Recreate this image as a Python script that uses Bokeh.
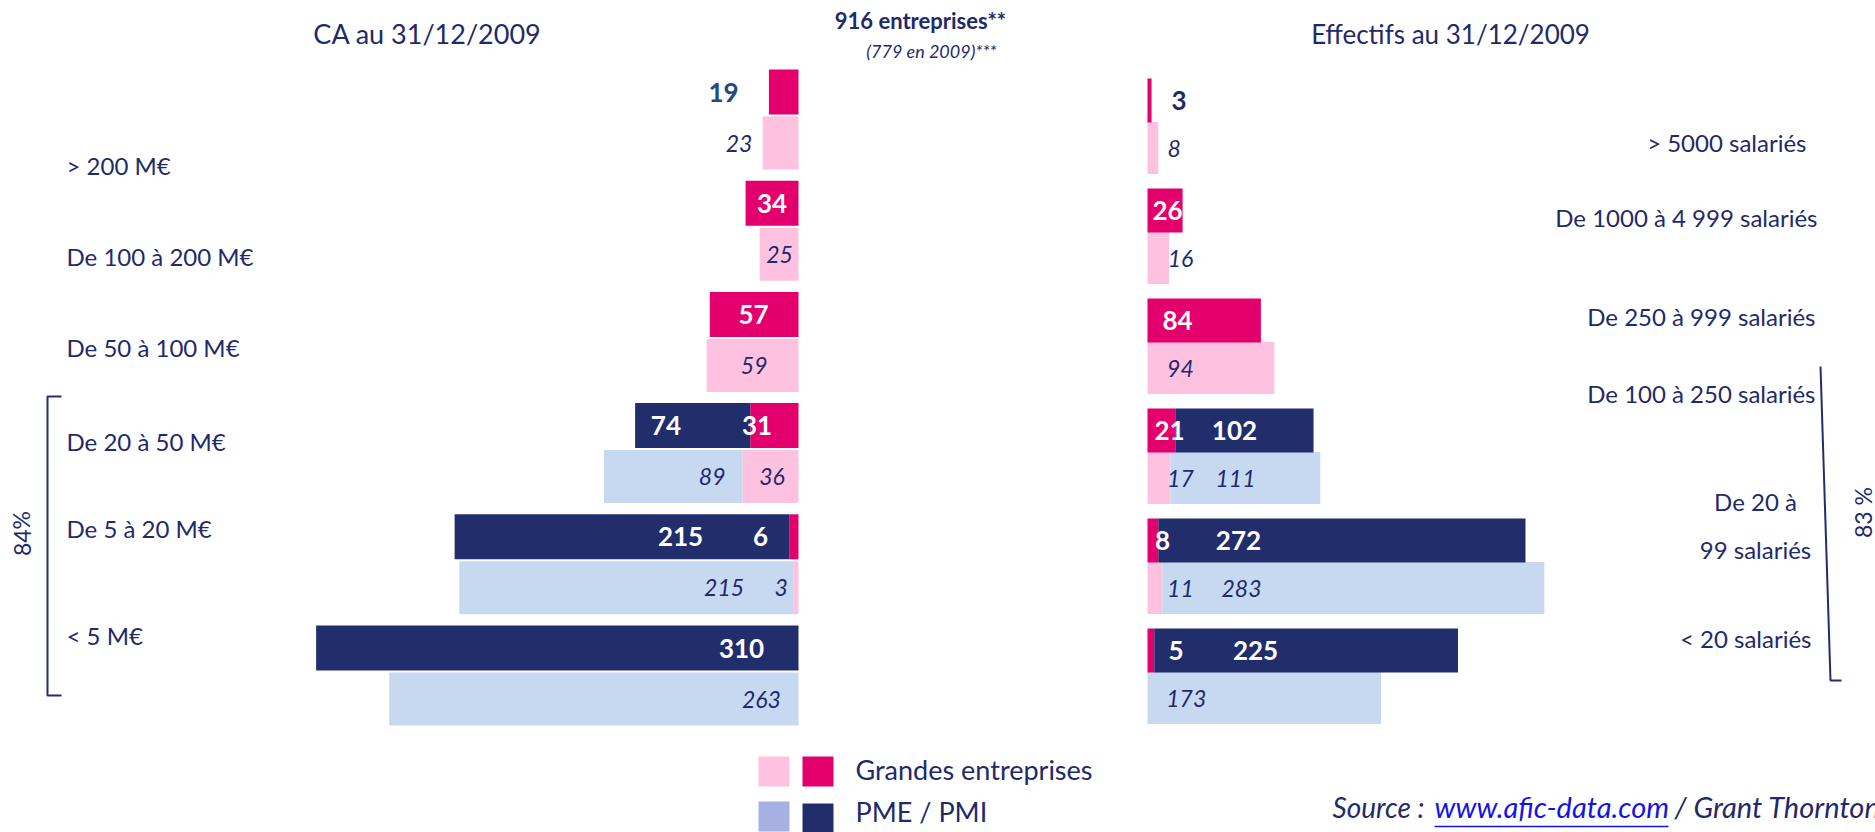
from bokeh.plotting import figure
from bokeh.models import Range1d, ColumnDataSource
from bokeh.core.properties import value
from bokeh.embed import file_html
from bokeh.resources import INLINE

# ---------------- data ----------------
ca_categories = ["> 200 M€", "De 100 à 200 M€", "De 50 à 100 M€",
                 "De 20 à 50 M€", "De 5 à 20 M€", "< 5 M€"]
ca_ge_2010 = [19, 34, 57, 31, 6, 0]
ca_pme_2010 = [0, 0, 0, 74, 215, 310]
ca_ge_2009 = [23, 25, 59, 36, 3, 0]
ca_pme_2009 = [0, 0, 0, 89, 215, 263]

eff_categories = ["> 5000 salariés", "De 1000 à 4 999 salariés", "De 250 à 999 salariés",
                  "De 100 à 250 salariés", "De 20 à 99 salariés", "< 20 salariés"]
eff_ge_2010 = [3, 26, 84, 21, 8, 5]
eff_pme_2010 = [0, 0, 0, 102, 272, 225]
eff_ge_2009 = [8, 16, 94, 17, 11, 0]
eff_pme_2009 = [0, 0, 0, 111, 283, 173]

title_left = "CA au 31/12/2009"
title_right = "Effectifs au 31/12/2009"
title_mid = "916 entreprises**"
subtitle_mid = "(779 en 2009)***"
share_left = "84%"
share_right = "83 %"
legend_labels = ["Grandes entreprises", "PME / PMI"]

# ---------------- style ----------------
FONT = value("Lato")
NAVY = "#222E6C"
TXT = "#1F2A6B"
PINK = "#E3006D"
LPINK = "#FFC1E0"
LBLUE = "#C6D9F1"
LAV = "#A6B0E2"

W, H = 1875, 832
OFF = 0

p = figure(width=W, height=H, x_range=Range1d(0, W), y_range=Range1d(H, 0),
           output_backend="svg", toolbar_location=None, min_border=0)
p.axis.visible = False
p.grid.visible = False
p.outline_line_color = None
p.background_fill_color = "white"
p.border_fill_color = "white"

# panel scales (value -> pixel through extra ranges)
L0, LS = 798 - OFF, 1.556   # left baseline, px per unit (bars grow leftwards)
R0, RS = 1147 - OFF, 1.35   # right baseline, px per unit
p.extra_x_ranges = {
    "xl": Range1d(start=L0 / LS, end=(L0 - W) / LS),
    "xr": Range1d(start=-R0 / RS, end=(W - R0) / RS),
}
LC0, LP = 91.5 - OFF, 111.2
RC0, RP = 100 - OFF, 110.0
p.extra_y_ranges = {
    "yl": Range1d(start=(H - LC0) / LP, end=-LC0 / LP),
    "yr": Range1d(start=(H - RC0) / RP, end=-RC0 / RP),
}


def panel(ge10, pme10, ge09, pme09, xr, yr, light_off, h_dark, h_light):
    n = len(ge10)
    rows = list(range(n))
    y10 = rows
    y09 = [r + light_off for r in rows]
    # 2009 (light)
    p.hbar(y=y09, height=h_light, left=[0] * n, right=ge09, color=LPINK,
           line_color=None, x_range_name=xr, y_range_name=yr)
    p.hbar(y=y09, height=h_light, left=ge09, right=[a + b for a, b in zip(ge09, pme09)],
           color=LBLUE, line_color=None, x_range_name=xr, y_range_name=yr)
    # 2010 (dark)
    p.hbar(y=y10, height=h_dark, left=[0] * n, right=ge10, color=PINK,
           line_color=None, x_range_name=xr, y_range_name=yr)
    p.hbar(y=y10, height=h_dark, left=ge10, right=[a + b for a, b in zip(ge10, pme10)],
           color=NAVY, line_color=None, x_range_name=xr, y_range_name=yr)
    return y10, y09


def labels(vals, xs, ys, colors, xr, yr, style, size):
    sx, sy, st, sc = [], [], [], []
    for v, x, y, c in zip(vals, xs, ys, colors):
        if v and x is not None:
            sx.append(x); sy.append(y); st.append(str(v)); sc.append(c)
    src = ColumnDataSource(dict(x=sx, y=sy, t=st, c=sc))
    p.text(x="x", y="y", text="t", source=src, text_color="c", text_font=FONT,
           text_font_style=style, text_font_size=size, text_align="center",
           text_baseline="middle", x_range_name=xr, y_range_name=yr)


BOLD_SZ, IT_SZ = "26px", "23px"

# ---- left panel
ly10, ly09 = panel(ca_ge_2010, ca_pme_2010, ca_ge_2009, ca_pme_2009, "xl", "yl",
                   51 / LP, 45 / LP, 53 / LP)
labels(ca_ge_2010, [48.2, 17.0, 28.9, 26.6, 24.4, None], ly10,
       ["#254A7F", "white", "white", "white", "white", "white"], "xl", "yl", "bold", BOLD_SZ)
labels(ca_pme_2010, [None, None, None, 85.2, 75.8, 36.6], ly10, ["white"] * 6,
       "xl", "yl", "bold", BOLD_SZ)
labels(ca_ge_2009, [38.2, 12.2, 28.5, 17.0, 11.2, None], ly09, [TXT] * 6,
       "xl", "yl", "italic", IT_SZ)
labels(ca_pme_2009, [None, None, None, 55.5, 47.8, 23.8], ly09, [TXT] * 6,
       "xl", "yl", "italic", IT_SZ)

# ---- right panel
ry10, ry09 = panel(eff_ge_2010, eff_pme_2010, eff_ge_2009, eff_pme_2009, "xr", "yr",
                   47.5 / RP, 44 / RP, 52 / RP)
labels(eff_ge_2010, [23.3, 14.8, 22.2, 16.3, 11.1, 21.1], ry10,
       [TXT, "white", "white", "white", "white", "white"], "xr", "yr", "bold", BOLD_SZ)
labels(eff_pme_2010, [None, None, None, 64.4, 67.4, 80.0], ry10, ["white"] * 6,
       "xr", "yr", "bold", BOLD_SZ)
labels(eff_ge_2009, [19.8, 24.4, 24.4, 24.4, 24.4, None], ry09, [TXT] * 6,
       "xr", "yr", "italic", IT_SZ)
labels(eff_pme_2009, [None, None, None, 65.2, 69.6, 28.7], ry09, [TXT] * 6,
       "xr", "yr", "italic", IT_SZ)


def txt(x, y, t, size, align="left", style="normal", color=TXT, angle=0.0):
    p.text(x=[x - OFF], y=[y - OFF], text=[t], text_font=FONT, text_font_size=size,
           text_font_style=style, text_color=color, text_align=align,
           text_baseline="middle", angle=angle)


# category labels
for cat, y in zip(ca_categories, [165, 256, 347, 441, 528, 635]):
    txt(66, y, cat, "24px")

eff_pos = [(1806, 142), (1817, 217), (1815, 316), (1815, 393), None, (1811, 638)]
for cat, pos in zip(eff_categories, eff_pos):
    if pos is None:
        first, second = cat.split(" à ")
        txt(1755, 501, first + " à", "24px", align="center")
        txt(1755, 549, second, "24px", align="center")
    else:
        txt(pos[0], pos[1], cat, "24px", align="right")

# titles
txt(427, 33, title_left, "27px", align="center")
txt(1450, 33, title_right, "26px", align="center")
txt(920, 20, title_mid, "22px", align="center", style="bold")
txt(931, 50, subtitle_mid, "18px", align="center", style="italic")

# brackets
p.line(x=[61 - OFF, 47 - OFF, 47 - OFF, 61 - OFF], y=[396 - OFF, 396 - OFF, 695 - OFF, 695 - OFF],
       line_color=NAVY, line_width=2)
p.line(x=[1820 - OFF, 1830 - OFF, 1841 - OFF], y=[366 - OFF, 680 - OFF, 680 - OFF],
       line_color=NAVY, line_width=2)
txt(21, 533, share_left, "23px", align="center", angle=1.5708)
txt(1862, 512, share_right, "23px", align="center", angle=1.5708)

# legend
p.rect(x=[773.5 - OFF, 817.5 - OFF], y=[771 - OFF, 771 - OFF], width=31, height=30,
       color=[LPINK, PINK], line_color=None)
p.rect(x=[773.5 - OFF, 817.5 - OFF], y=[816 - OFF, 817.5 - OFF], width=31, height=[30, 29],
       color=[LAV, NAVY], line_color=None)
txt(855, 769, legend_labels[0], "27px")
txt(855, 811, legend_labels[1], "27px")

# source
txt(1332, 806, "Source :", "28px", style="italic")
txt(1434, 806, "www.afic-data.com", "29px", style="italic", color="#1414E6")
p.line(x=[1434 - OFF, 1668 - OFF], y=[826 - OFF, 826 - OFF], line_color="#1414E6", line_width=1.5)
txt(1674, 806, "/ Grant Thornton", "29px", style="italic")

open("out.html", "w").write(file_html(p, INLINE))
